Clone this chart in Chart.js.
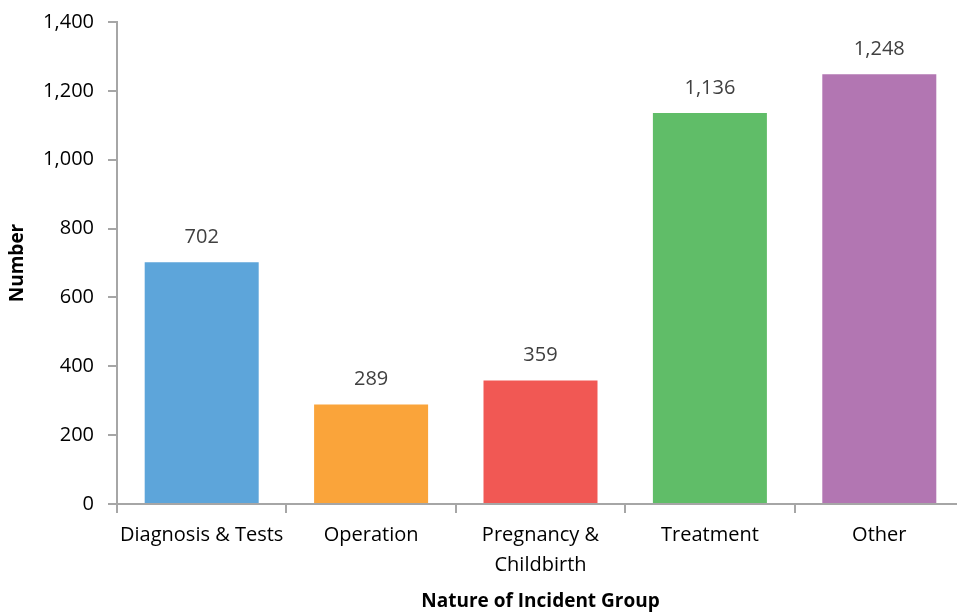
<!DOCTYPE html>
<html>
<head>
<meta charset="utf-8">
<script src="https://cdn.jsdelivr.net/npm/chart.js@4.4.0/dist/chart.umd.min.js"></script>
<style>
    html, body { margin: 0; padding: 0; background: #fff; overflow: hidden; }
    #box { width: 970px; height: 613px; position: relative; }
</style>
</head>
<body>
<div id="box"><canvas id="graficoIncidentes"></canvas></div>
<script>
// dados do gráfico
var categorias = ['Diagnosis & Tests', 'Operation', ['Pregnancy &', 'Childbirth'], 'Treatment', 'Other'];
var valores = [702, 289, 359, 1136, 1248];
var cores = ['#5DA5DA', '#FAA43A', '#F15854', '#60BD68', '#B276B2'];
var ticksY = [0, 200, 400, 600, 800, 1000, 1200, 1400];

var fonte = "'Open Sans', 'Liberation Sans', sans-serif";
var cinzaEixo = '#A6A6A6';

// escreve o valor acima de cada barra
var rotulosBarras = {
    id: 'rotulosBarras',
    afterDatasetsDraw: function (chart) {
        var ctx = chart.ctx;
        var meta = chart.getDatasetMeta(0);
        ctx.save();
        ctx.font = '20px ' + fonte;
        ctx.fillStyle = '#404040';
        ctx.textAlign = 'center';
        ctx.textBaseline = 'middle';
        meta.data.forEach(function (bar, i) {
            ctx.fillText(valores[i].toLocaleString('en-US'), bar.x, bar.y - 25);
        });
        ctx.restore();
    }
};

var ctx = document.getElementById('graficoIncidentes').getContext('2d');
new Chart(ctx, {
    type: 'bar',
    data: {
        labels: categorias,
        datasets: [{
            data: valores,
            backgroundColor: cores,
            borderWidth: 0,
            categoryPercentage: 1,
            barPercentage: 0.673
        }]
    },
    options: {
        responsive: true,
        maintainAspectRatio: false,
        animation: false,
        layout: { padding: { top: 22, right: 6, left: 0, bottom: 0 } },
        plugins: {
            legend: { display: false },
            tooltip: { enabled: false }
        },
        scales: {
            y: {
                min: 0,
                max: 1400,
                afterBuildTicks: function (axis) {
                    axis.ticks = ticksY.map(function (v) { return { value: v }; });
                },
                afterFit: function (axis) {
                    axis.width = 117;
                    axis.paddingTop = 0;
                    axis.paddingBottom = 0;
                },
                border: { color: cinzaEixo, width: 2 },
                grid: {
                    drawOnChartArea: false,
                    color: cinzaEixo,
                    lineWidth: 2,
                    tickLength: 9
                },
                ticks: {
                    color: '#000',
                    padding: 14,
                    font: { family: fonte, size: 20 },
                    callback: function (v) { return v.toLocaleString('en-US'); }
                },
                title: {
                    display: true,
                    text: 'Number',
                    color: '#000',
                    padding: { top: 6, bottom: 0 },
                    font: { family: fonte, size: 19, weight: 'bold' }
                }
            },
            x: {
                afterFit: function (axis) { axis.height = 109; },
                border: { color: cinzaEixo, width: 2 },
                grid: {
                    drawOnChartArea: false,
                    color: cinzaEixo,
                    lineWidth: 2,
                    tickLength: 9,
                    offset: true
                },
                ticks: {
                    color: '#000',
                    padding: 7,
                    maxRotation: 0,
                    autoSkip: false,
                    font: { family: fonte, size: 20, lineHeight: 1.5 }
                },
                title: {
                    display: true,
                    text: 'Nature of Incident Group',
                    color: '#000',
                    padding: { top: 0, bottom: 0 },
                    font: { family: fonte, size: 19, weight: 'bold' }
                }
            }
        }
    },
    plugins: [rotulosBarras]
});
</script>
</body>
</html>
